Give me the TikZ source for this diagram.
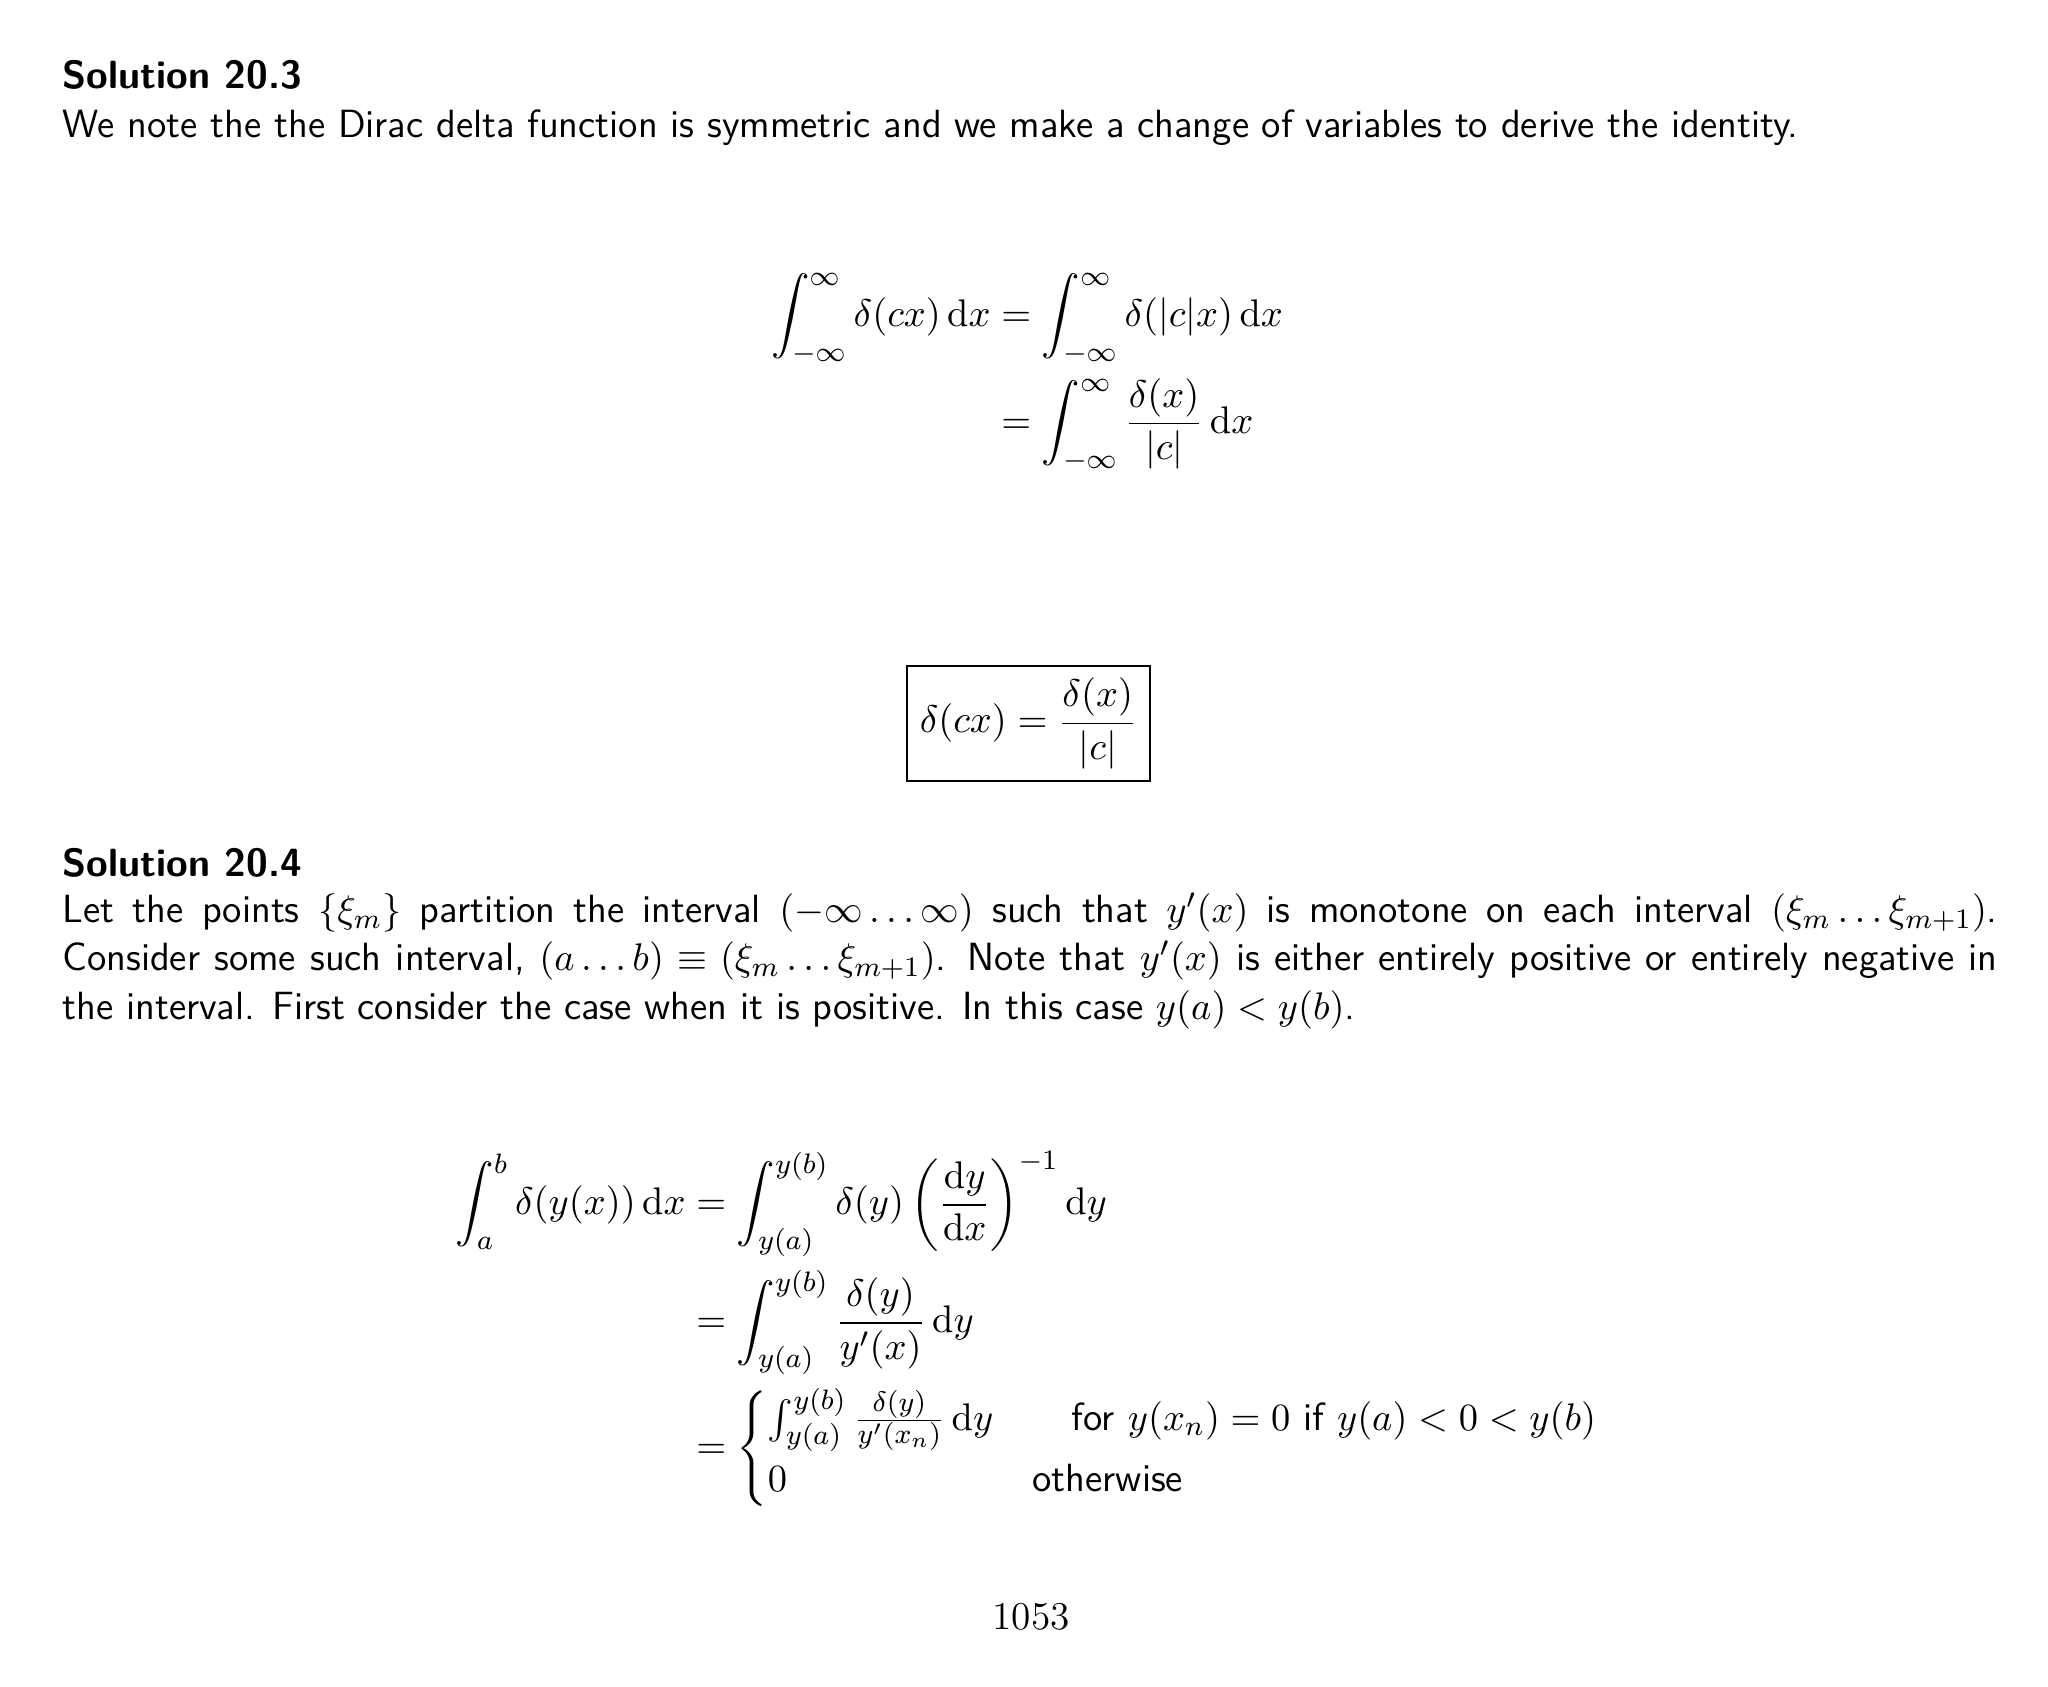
\documentclass[tikz,border=0pt]{standalone}
\usepackage{amsmath}
\newcommand{\dd}{\mathrm{d}}
\begin{document}
\begin{tikzpicture}[x=1cm,y=1cm,
  txt/.style={inner sep=0pt,font=\fontsize{11.2}{13.8}\selectfont\sffamily},
  eq/.style={inner sep=0pt,font=\fontsize{11.2}{13.6}\selectfont}]
\useasboundingbox (0,0) rectangle (20.48,-16.87);
\node[txt,anchor=base west,font=\fontsize{11.2}{13.8}\selectfont\sffamily\bfseries] (h1) at (0.62,-0.89) {Solution 20.3};
\node[txt,anchor=base west] (p1) at (0.62,-1.38) {We note the the Dirac delta function is symmetric and we make a change of variables to derive the identity.};
\node[eq] (e1) at (10.27,-3.72) {$\displaystyle\begin{aligned}
\int_{-\infty}^{\infty}\delta(cx)\,\dd x &= \int_{-\infty}^{\infty}\delta(|c|x)\,\dd x\\
&= \int_{-\infty}^{\infty}\frac{\delta(x)}{|c|}\,\dd x
\end{aligned}$};
\node[eq,draw,line width=0.5pt,minimum width=2.43cm,minimum height=1.15cm,inner sep=3pt] (box) at (10.285,-7.235) {$\displaystyle \delta(cx)=\frac{\delta(x)}{|c|}$};
\node[txt,anchor=base west,font=\fontsize{11.2}{13.8}\selectfont\sffamily\bfseries] (h2) at (0.62,-8.77) {Solution 20.4};
\node[txt,anchor=north west,text width=19.35cm,align=justify] (p2) at (0.62,-8.92) {Let the points $\{\xi_m\}$ partition the interval $(-\infty\dots\infty)$ such that $y'(x)$ is monotone on each interval $(\xi_m\dots\xi_{m+1})$. Consider some such interval, $(a\dots b)\equiv(\xi_m\dots\xi_{m+1})$. Note that $y'(x)$ is either entirely positive or entirely negative in the interval. First consider the case when it is positive. In this case $y(a)<y(b)$.};
\node[eq] (e2) at (10.28,-13.30) {$\displaystyle\begin{aligned}
\int_a^b\delta(y(x))\,\dd x &= \int_{y(a)}^{y(b)}\delta(y)\left(\frac{\dd y}{\dd x}\right)^{-1}\dd y\\
&= \int_{y(a)}^{y(b)}\frac{\delta(y)}{y'(x)}\,\dd y\\
&= \begin{cases}\int_{y(a)}^{y(b)}\frac{\delta(y)}{y'(x_n)}\,\dd y & \quad\text{\sffamily for $y(x_n)=0$ if $y(a)<0<y(b)$}\\ 0 & \text{\sffamily otherwise}\end{cases}
\end{aligned}$};
\node[eq,anchor=base] (pg) at (10.31,-16.30) {1053};
\end{tikzpicture}
\end{document}
